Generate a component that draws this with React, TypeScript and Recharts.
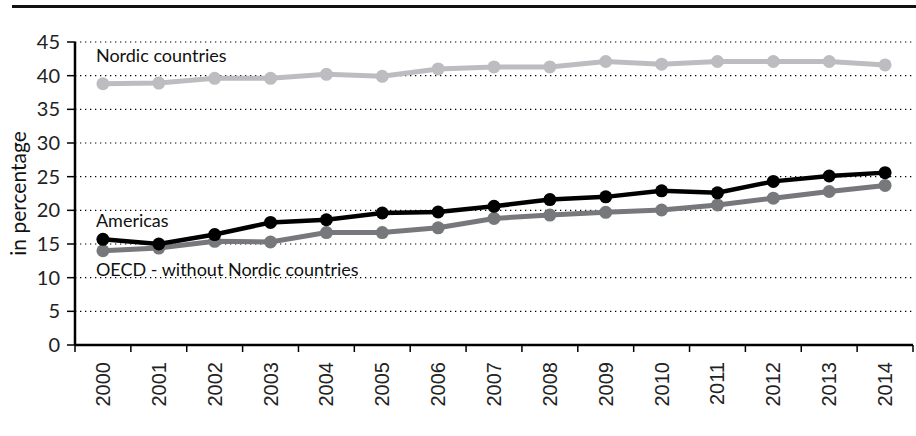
import React from 'react';
import { LineChart, Line, XAxis, YAxis, CartesianGrid, LabelList } from 'recharts';

// Share in percentage, 2000-2014
const years = ['2000', '2001', '2002', '2003', '2004', '2005', '2006', '2007', '2008', '2009', '2010', '2011', '2012', '2013', '2014'];
const nordic = [38.8, 38.9, 39.6, 39.6, 40.2, 39.9, 41.0, 41.3, 41.3, 42.1, 41.7, 42.1, 42.1, 42.1, 41.6];
const americas = [15.7, 15.0, 16.4, 18.2, 18.6, 19.6, 19.75, 20.6, 21.6, 22.0, 22.9, 22.6, 24.3, 25.1, 25.6];
const oecdNoNordic = [14.0, 14.4, 15.4, 15.3, 16.7, 16.7, 17.4, 18.8, 19.3, 19.7, 20.05, 20.8, 21.8, 22.8, 23.7];
const yTicks = [0, 5, 10, 15, 20, 25, 30, 35, 40, 45];

const chartData = years.map((year, i) => ({
  year,
  nordic: nordic[i],
  americas: americas[i],
  oecd: oecdNoNordic[i],
}));

const W = 916;
const H = 436;
const MARGIN = { top: 42, right: 3, bottom: 0, left: 0 };
const Y_AXIS_W = 75;
const X_AXIS_H = 91;
const PLOT_W = W - MARGIN.left - MARGIN.right - Y_AXIS_W;
const PLOT_H = H - MARGIN.top - MARGIN.bottom - X_AXIS_H;
const BAND = PLOT_W / years.length;

const LABEL_FONT = 'Lato, "Open Sans", sans-serif';

// year ticks: rotated labels, tick marks on the band edges
const YearTick = (props: any) => {
  const { x, y, payload, index } = props;
  const half = BAND / 2;
  return (
    <g>
      <line x1={x - half} x2={x - half} y1={y} y2={y + 7} stroke="#000" strokeWidth={1.5} />
      {index === years.length - 1 && (
        <line x1={x + half} x2={x + half} y1={y} y2={y + 7} stroke="#000" strokeWidth={1.5} />
      )}
      <text
        x={x}
        y={y + 17}
        transform={`rotate(-90, ${x}, ${y + 17})`}
        textAnchor="end"
        dominantBaseline="central"
        fontFamily='"Liberation Sans", Arial, sans-serif'
        fontSize={20}
        fill="#222"
      >
        {payload.value}
      </text>
    </g>
  );
};

// series name written next to the first point
const seriesLabel = (name: string, dy: number) => (props: any) => {
  const { x, y, index } = props;
  if (index !== 0) return null;
  return (
    <text x={x - 7} y={y + dy} fontFamily={LABEL_FONT} fontSize={18} fill="#111">
      {name}
    </text>
  );
};

export default function App() {
  const labelY = MARGIN.top + PLOT_H / 2;
  return (
    <div style={{ position: 'absolute', left: 0, top: 0, width: W, height: H, background: '#fff' }}>
      <div style={{ position: 'absolute', left: 12, top: 5, width: W - 12, height: 3, background: '#111' }} />
      <LineChart width={W} height={H} data={chartData} margin={MARGIN}>
        <CartesianGrid vertical={false} stroke="#000" strokeDasharray="1.3 3.7" strokeWidth={1.2} />
        <XAxis
          dataKey="year"
          interval={0}
          height={X_AXIS_H}
          padding={{ left: BAND / 2, right: BAND / 2 }}
          axisLine={{ stroke: '#000', strokeWidth: 2.5 }}
          tickLine={false}
          tickSize={0}
          tickMargin={0}
          tick={<YearTick />}
        />
        <YAxis
          width={Y_AXIS_W}
          domain={[0, 45]}
          ticks={yTicks}
          interval={0}
          axisLine={{ stroke: '#000', strokeWidth: 2.5 }}
          tickLine={{ stroke: '#000', strokeWidth: 1.5 }}
          tickSize={8}
          tickMargin={7}
          tick={{ fontFamily: LABEL_FONT, fontSize: 20, fill: '#222' }}
          label={{
            content: () => (
              <text
                x={17}
                y={labelY}
                transform={`rotate(-90, 17, ${labelY})`}
                textAnchor="middle"
                dominantBaseline="central"
                fontFamily={LABEL_FONT}
                fontSize={21}
                fill="#111"
              >
                in percentage
              </text>
            ),
          }}
        />
        <Line
          dataKey="nordic"
          stroke="#bdbdc1"
          strokeWidth={5}
          dot={{ r: 6.5, fill: '#bdbdc1', stroke: 'none' }}
          isAnimationActive={false}
        >
          <LabelList content={seriesLabel('Nordic countries', -22)} />
        </Line>
        <Line
          dataKey="oecd"
          stroke="#77787c"
          strokeWidth={5}
          dot={{ r: 6.5, fill: '#77787c', stroke: 'none' }}
          isAnimationActive={false}
        >
          <LabelList content={seriesLabel('OECD - without Nordic countries', 25)} />
        </Line>
        <Line
          dataKey="americas"
          stroke="#000"
          strokeWidth={4.5}
          dot={{ r: 6.5, fill: '#000', stroke: 'none' }}
          isAnimationActive={false}
        >
          <LabelList content={seriesLabel('Americas', -12)} />
        </Line>
      </LineChart>
    </div>
  );
}
